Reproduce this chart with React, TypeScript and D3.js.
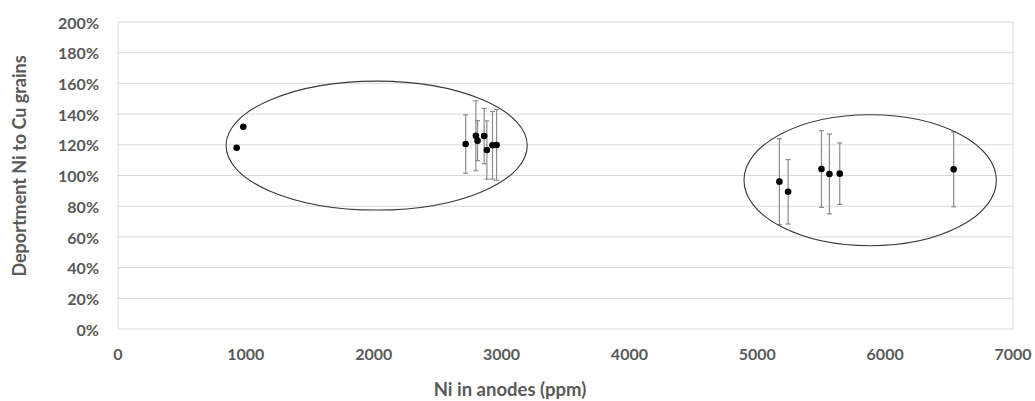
import React from "react";
import * as d3 from "d3";

const niPpm = [928, 980, 2719, 2799, 2812, 2864, 2885, 2929, 2961, 5173, 5241, 5502, 5564, 5645, 6536];
const deportment = [1.181, 1.318, 1.205, 1.259, 1.227, 1.257, 1.166, 1.197, 1.199, 0.96, 0.894, 1.042, 1.01, 1.012, 1.04];
const errorPlusMinus = [0, 0, 0.19, 0.228, 0.13, 0.18, 0.19, 0.22, 0.23, 0.28, 0.21, 0.25, 0.26, 0.2, 0.244];
const xTicks = [0, 1000, 2000, 3000, 4000, 5000, 6000, 7000];
const yTicks = [0, 0.2, 0.4, 0.6, 0.8, 1.0, 1.2, 1.4, 1.6, 1.8, 2.0];
const groupCenterX = [2023, 5883];
const groupCenterY = [1.195, 0.969];
const groupRadiusX = [1178, 987];
const groupRadiusY = [0.42, 0.427];

const W = 1035;
const H = 401;
const left = 118, right = 1013, top = 22, bottom = 329;
const FONT = "Lato, 'Open Sans', sans-serif";
const TXT = "#595959";

export default function App() {
  const x = d3.scaleLinear().domain([0, 7000]).range([left, right]);
  const y = d3.scaleLinear().domain([0, 2]).range([bottom, top]);
  const pct = d3.format(".0%");
  return (
    <svg width={W} height={H} style={{ position: "absolute", left: 0, top: 0, background: "#fff" }}>
      {yTicks.map((t) => (
        <line key={"g" + t} x1={left} x2={right} y1={y(t)} y2={y(t)} stroke="#d9d9d9" strokeWidth={1} />
      ))}
      <line x1={left} x2={left} y1={top} y2={bottom} stroke="#d9d9d9" />
      <line x1={right} x2={right} y1={top} y2={bottom} stroke="#d9d9d9" />
      {yTicks.map((t) => (
        <text key={"yl" + t} x={99} y={y(t) + 1} dy="0.35em" textAnchor="end" fontFamily={FONT} fontWeight="bold" fontSize={16} fill={TXT}>
          {pct(t)}
        </text>
      ))}
      {xTicks.map((t) => (
        <text key={"xl" + t} x={x(t)} y={354} dy="0.35em" textAnchor="middle" fontFamily={FONT} fontWeight="bold" fontSize={16} fill={TXT}>
          {t}
        </text>
      ))}
      <text x={510} y={390} dy="0.35em" textAnchor="middle" fontFamily={FONT} fontWeight="bold" fontSize={18.5} fill={TXT}>
        Ni in anodes (ppm)
      </text>
      <text transform={`translate(20,166) rotate(-90)`} dy="0.35em" textAnchor="middle" fontFamily={FONT} fontWeight="bold" fontSize={18} fill={TXT}>
        Deportment Ni to Cu grains
      </text>
      {niPpm.map((v, i) =>
        errorPlusMinus[i] > 0 ? (
          <g key={"e" + i} stroke="#8c8c8c" strokeWidth={1.2}>
            <line x1={x(v)} x2={x(v)} y1={y(deportment[i] + errorPlusMinus[i])} y2={y(deportment[i] - errorPlusMinus[i])} />
            <line x1={x(v) - 2.5} x2={x(v) + 2.5} y1={y(deportment[i] + errorPlusMinus[i])} y2={y(deportment[i] + errorPlusMinus[i])} />
            <line x1={x(v) - 2.5} x2={x(v) + 2.5} y1={y(deportment[i] - errorPlusMinus[i])} y2={y(deportment[i] - errorPlusMinus[i])} />
          </g>
        ) : null
      )}
      {niPpm.map((v, i) => (
        <circle key={"p" + i} cx={x(v)} cy={y(deportment[i])} r={3.3} fill="#000" />
      ))}
      {groupCenterX.map((c, i) => (
        <ellipse
          key={"el" + i}
          cx={x(c)}
          cy={y(groupCenterY[i])}
          rx={x(groupRadiusX[i]) - x(0)}
          ry={y(0) - y(groupRadiusY[i])}
          fill="none"
          stroke="#3a3a3a"
          strokeWidth={1.1}
        />
      ))}
    </svg>
  );
}
